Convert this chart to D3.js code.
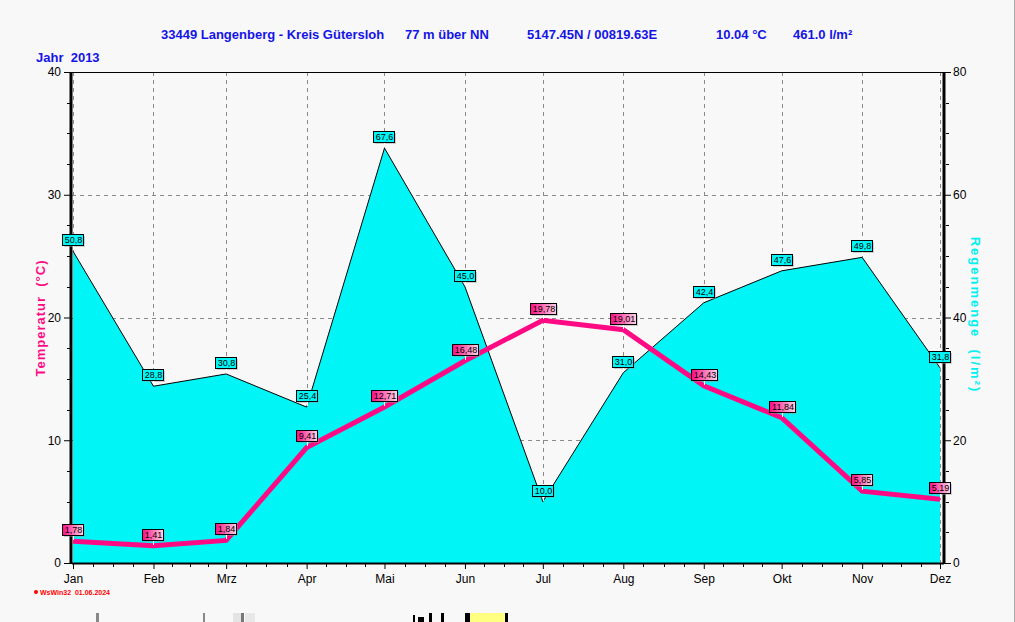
<!DOCTYPE html>
<html>
<head>
<meta charset="utf-8">
<script src="https://cdn.jsdelivr.net/npm/d3@7"></script>
<style>
  body { margin: 0; background: #f8f8f8; }
  svg { display: block; font-family: Arial, "Liberation Sans", sans-serif; }
  text { white-space: pre; }
</style>
</head>
<body>
<script>
// Monatswerte 2013
const months = ['Jan', 'Feb', 'Mrz', 'Apr', 'Mai', 'Jun', 'Jul', 'Aug', 'Sep', 'Okt', 'Nov', 'Dez'];
const monthDays = [0, 31, 59, 90, 120, 151, 181, 212, 243, 273, 304, 334];
const temperature = [1.78, 1.41, 1.84, 9.41, 12.71, 16.48, 19.78, 19.01, 14.43, 11.84, 5.85, 5.19];
const rain = [50.8, 28.8, 30.8, 25.4, 67.6, 45.0, 10.0, 31.0, 42.4, 47.6, 49.8, 31.8];
const tempTicks = [0, 10, 20, 30, 40];
const rainTicks = [0, 20, 40, 60, 80];

const W = 1015, H = 622;
const pLeft = 72, pRight = 944, pTop = 72, pBottom = 563;

const pink = '#ff0a84';
const cyan = '#00f6f6';
const blue = '#1414e6';

const svg = d3.select('body').append('svg')
    .attr('width', W)
    .attr('height', H);

const defs = svg.append('defs');
const grad = defs.append('linearGradient').attr('id', 'pinkGrad');
grad.append('stop').attr('offset', '0%').attr('stop-color', '#ff0a84');
grad.append('stop').attr('offset', '100%').attr('stop-color', '#ffd6ea');

let x = d3.scaleLinear().domain([0, 334]).range([pLeft + 1, 940]);
let yT = d3.scaleLinear().domain([0, 40]).range([pBottom, pTop]);
let yR = d3.scaleLinear().domain([0, 80]).range([pBottom, pTop]);

const data = months.map((m, i) => ({ m: m, d: monthDays[i], t: temperature[i], r: rain[i] }));

// grid
const grid = svg.append('g').attr('stroke', '#8a8a8a').attr('stroke-dasharray', '4,4');
grid.selectAll('line.v')
    .data(monthDays)
    .enter()
    .append('line')
    .attr('x1', (d) => Math.round(x(d)) + 0.5)
    .attr('x2', (d) => Math.round(x(d)) + 0.5)
    .attr('y1', pTop)
    .attr('y2', pBottom);
grid.selectAll('line.h')
    .data([10, 20, 30])
    .enter()
    .append('line')
    .attr('x1', pLeft)
    .attr('x2', pRight)
    .attr('y1', (d) => Math.round(yT(d)) + 0.5)
    .attr('y2', (d) => Math.round(yT(d)) + 0.5);

// rain area
let area = d3.area()
    .x((d) => x(d.d))
    .y0(pBottom)
    .y1((d) => yR(d.r));
let rainLine = d3.line()
    .x((d) => x(d.d))
    .y((d) => yR(d.r));

svg.append('path')
    .datum(data)
    .attr('d', area)
    .attr('fill', cyan);
svg.append('path')
    .datum(data)
    .attr('d', rainLine)
    .attr('fill', 'none')
    .attr('stroke', '#000')
    .attr('stroke-width', 1);

// temperature line
let tempLine = d3.line()
    .x((d) => x(d.d))
    .y((d) => yT(d.t));
svg.append('path')
    .datum(data)
    .attr('d', tempLine)
    .attr('fill', 'none')
    .attr('stroke', pink)
    .attr('stroke-width', 5)
    .attr('stroke-linejoin', 'miter');

// frame
svg.append('line').attr('x1', pLeft).attr('x2', pRight).attr('y1', pTop + 0.5).attr('y2', pTop + 0.5).attr('stroke', '#000');
svg.append('line').attr('x1', pLeft).attr('x2', pRight).attr('y1', pBottom + 0.5).attr('y2', pBottom + 0.5).attr('stroke', '#000').attr('stroke-width', 2);
svg.append('line').attr('x1', pLeft - 1).attr('x2', pLeft - 1).attr('y1', pTop).attr('y2', pBottom + 1).attr('stroke', '#000').attr('stroke-width', 3);
svg.append('line').attr('x1', pRight).attr('x2', pRight).attr('y1', pTop).attr('y2', pBottom + 1).attr('stroke', '#000').attr('stroke-width', 3);

// axes
const tickFont = '12px';
let axL = d3.axisLeft(yT).tickValues(tempTicks).tickSize(6).tickPadding(3);
let gL = svg.append('g').attr('transform', `translate(${pLeft - 2},0)`).call(axL);
let axR = d3.axisRight(yR).tickValues(rainTicks).tickSize(6).tickPadding(2);
let gR = svg.append('g').attr('transform', `translate(${pRight + 1},0)`).call(axR);
let axB = d3.axisBottom(x).tickValues(monthDays).tickFormat((d, i) => months[i]).tickSize(5).tickPadding(5);
let gB = svg.append('g').attr('transform', `translate(0,${pBottom + 1})`).call(axB);
[gL, gR, gB].forEach((g) => {
    g.select('.domain').remove();
    g.selectAll('text').attr('fill', '#000').style('font-size', tickFont).style('font-family', 'Arial, "Liberation Sans", sans-serif');
    g.selectAll('line').attr('stroke', '#000');
});

// minor ticks
const minorT = d3.range(2.5, 40, 2.5).filter((v) => v % 10 !== 0);
svg.append('g').selectAll('line')
    .data(minorT)
    .enter()
    .append('line')
    .attr('x1', pLeft - 5).attr('x2', pLeft - 2)
    .attr('y1', (d) => Math.round(yT(d)) + 0.5).attr('y2', (d) => Math.round(yT(d)) + 0.5)
    .attr('stroke', '#000');
const minorR = d3.range(5, 80, 5).filter((v) => v % 20 !== 0);
svg.append('g').selectAll('line')
    .data(minorR)
    .enter()
    .append('line')
    .attr('x1', pRight + 2).attr('x2', pRight + 5)
    .attr('y1', (d) => Math.round(yR(d)) + 0.5).attr('y2', (d) => Math.round(yR(d)) + 0.5)
    .attr('stroke', '#000');
const monthEnds = monthDays.slice(1).concat([365]);
const minorX = [];
monthDays.forEach((d, i) => {
    if (i === 11) return;
    const len = monthEnds[i] - d;
    [0.25, 0.5, 0.75].forEach((f) => minorX.push(d + len * f));
});
svg.append('g').selectAll('line')
    .data(minorX)
    .enter()
    .append('line')
    .attr('x1', (d) => Math.round(x(d)) + 0.5).attr('x2', (d) => Math.round(x(d)) + 0.5)
    .attr('y1', pBottom + 1).attr('y2', pBottom + 4)
    .attr('stroke', '#000');

// value labels
function fmt(v, n) {
    return v.toFixed(n).replace('.', ',');
}
function addLabels(key, yScale, digits, fill) {
    let g = svg.append('g').selectAll('g')
        .data(data)
        .enter()
        .append('g')
        .attr('transform', (d) => `translate(${Math.round(x(d.d))},${Math.round(yScale(d[key]))})`);
    g.each(function(d) {
        const s = d3.select(this);
        const txt = fmt(d[key], digits);
        const w = Math.round(txt.length * 4.6 + 3);
        const h = 11;
        const bx = -Math.round(w / 2), by = -h - 6;
        s.append('rect').attr('x', bx + 2).attr('y', by + 2).attr('width', w).attr('height', h)
            .attr('fill', '#9a9a9a').attr('opacity', 0.45);
        s.append('line').attr('x1', 0.5).attr('x2', 0.5).attr('y1', by + h).attr('y2', -1)
            .attr('stroke', '#fff');
        s.append('rect').attr('x', bx + 0.5).attr('y', by + 0.5).attr('width', w).attr('height', h)
            .attr('fill', fill).attr('stroke', '#000');
        s.append('text').attr('x', bx + w / 2 + 1).attr('y', by + h - 2)
            .attr('text-anchor', 'middle')
            .style('font-size', '9px')
            .attr('fill', '#000')
            .text(txt);
    });
}
addLabels('r', yR, 1, cyan);
addLabels('t', yT, 2, 'url(#pinkGrad)');

// titles
const title = svg.append('g').attr('fill', blue).style('font-weight', 'bold').style('font-size', '13px');
title.append('text').attr('x', 161).attr('y', 39).text('33449 Langenberg - Kreis Gütersloh');
title.append('text').attr('x', 405).attr('y', 39).text('77 m über NN');
title.append('text').attr('x', 527).attr('y', 39).text('5147.45N / 00819.63E');
title.append('text').attr('x', 716).attr('y', 39).text('10.04 °C');
title.append('text').attr('x', 793).attr('y', 39).text('461.0 l/m²');
title.append('text').attr('x', 36).attr('y', 62).text('Jahr  2013');

svg.append('text')
    .attr('transform', 'translate(45,318) rotate(-90)')
    .attr('text-anchor', 'middle')
    .attr('fill', pink)
    .style('font-weight', 'bold')
    .style('font-size', '13px')
    .style('letter-spacing', '1px')
    .text('Temperatur  (°C)');
svg.append('text')
    .attr('transform', 'translate(971,315) rotate(90)')
    .attr('text-anchor', 'middle')
    .attr('fill', '#00f0f0')
    .style('font-weight', 'bold')
    .style('font-size', '13px')
    .style('letter-spacing', '2px')
    .text('Regenmenge  (l/m²)');

// footer
svg.append('circle').attr('cx', 36).attr('cy', 592).attr('r', 2).attr('fill', '#ff0000');
svg.append('text').attr('x', 40).attr('y', 595)
    .attr('fill', '#ff0000')
    .style('font-size', '7px')
    .style('font-weight', 'bold')
    .text('WsWin32  01.06.2024');

// right window edge and bottom strip
svg.append('line').attr('x1', 1014.5).attr('x2', 1014.5).attr('y1', 0).attr('y2', H).attr('stroke', '#a8a8a8');
const strip = svg.append('g');
[[96, 3, '#888'], [203, 2, '#888'], [233, 8, '#e4e4e4'], [241, 3, '#777'], [245, 10, '#e8e8e8']].forEach((r) => {
    strip.append('rect').attr('x', r[0]).attr('y', 613).attr('width', r[1]).attr('height', 9).attr('fill', r[2]);
});
[[413, 2, 615], [418, 6, 617], [429, 3, 613], [441, 3, 613], [465, 5, 613], [505, 3, 613]].forEach((r) => {
    strip.append('rect').attr('x', r[0]).attr('y', r[2]).attr('width', r[1]).attr('height', 622 - r[2]).attr('fill', '#000');
});
strip.append('rect').attr('x', 470).attr('y', 613).attr('width', 35).attr('height', 9).attr('fill', '#ffff80');
</script>
</body>
</html>
